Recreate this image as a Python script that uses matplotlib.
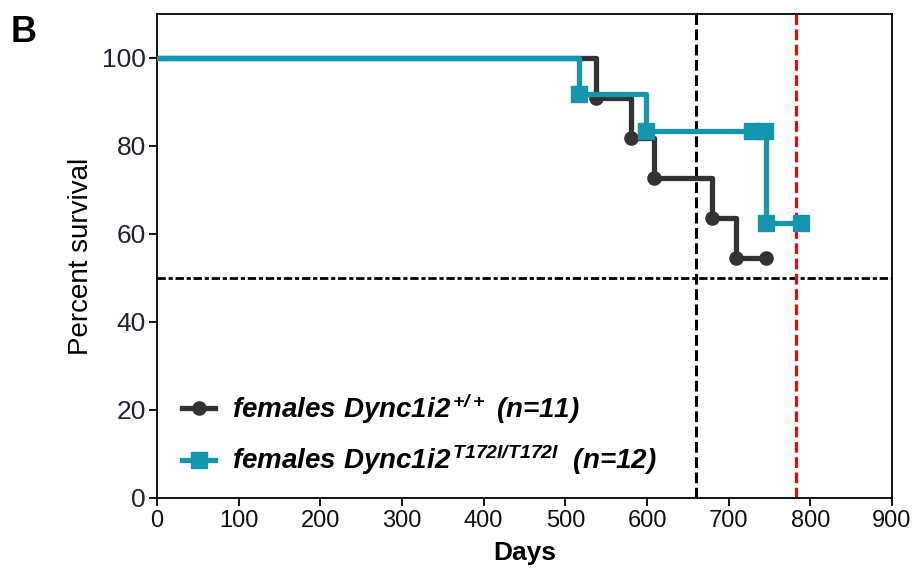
import matplotlib
matplotlib.use("Agg")
import matplotlib.pyplot as plt

# ---- data ----
wt_times = [0, 538, 581, 609, 680, 709, 746]
wt_surv = [100, 90.9, 81.8, 72.7, 63.6, 54.5, 54.5]
mut_times = [0, 517, 599, 746, 788]
mut_surv = [100, 91.7, 83.3, 62.5, 62.5]
mut_cens_times = [728, 744]
mut_cens_surv = [83.3, 83.3]
median_wt = 660
median_mut = 783
x_ticks = [0, 100, 200, 300, 400, 500, 600, 700, 800, 900]
y_ticks = [0, 20, 40, 60, 80, 100]
labels = [r"females Dync1i2$^{\,\mathregular{+/+}}$ (n=11)",
          r"females Dync1i2$^{\,\mathregular{T172I/T172I}}$  (n=12)"]

plt.rcParams['font.family'] = ['Liberation Sans', 'DejaVu Sans']
plt.rcParams['mathtext.fontset'] = 'custom'
plt.rcParams['mathtext.rm'] = 'Liberation Sans:bold:italic'
plt.rcParams['mathtext.it'] = 'Liberation Sans:bold:italic'

wt_color = '#333333'
mut_color = '#1496AE'

fig = plt.figure(figsize=(9.16, 5.8), dpi=100)
ax = fig.add_axes([0.1714, 0.1414, 0.8024, 0.8345])

# reference lines
ax.axhline(50, color='black', lw=2, dashes=(3, 1, 1.5, 1), zorder=1)
ax.axvline(median_wt, color='black', lw=2.2, dashes=(3.5, 1.5), zorder=1)
ax.axvline(median_mut, color='#FF0000', lw=2.2, dashes=(3.5, 1.5), zorder=1)

# curves
ax.step(wt_times, wt_surv, where='post', color=wt_color, lw=3.8, zorder=3)
ax.plot(wt_times[1:], wt_surv[1:], 'o', color=wt_color, ms=9.5, zorder=3)
ax.step(mut_times, mut_surv, where='post', color=mut_color, lw=3.8, zorder=4)
ax.plot(mut_times[1:], mut_surv[1:], 's', color=mut_color, ms=11, zorder=4)
ax.plot(mut_cens_times, mut_cens_surv, 's', color=mut_color, ms=11, zorder=4)

# legend handles
h1, = ax.plot([], [], '-o', color=wt_color, lw=3.8, ms=9.5)
h2, = ax.plot([], [], '-s', color=mut_color, lw=3.8, ms=11)
leg = ax.legend([h1, h2], labels, loc='lower left', bbox_to_anchor=(0.0, -0.009),
                frameon=False, handlelength=1.2, handletextpad=0.6,
                labelspacing=0.6,
                prop={'family': 'Liberation Sans', 'weight': 'bold',
                      'style': 'italic', 'size': 20})

ax.set_xlim(0, 900)
ax.set_ylim(0, 110)
ax.set_xticks(x_ticks)
ax.set_yticks(y_ticks)
ax.tick_params(axis='both', direction='out', length=6, width=1.3, colors='black')
ax.tick_params(axis='y', labelsize=19, labelcolor='#222233', pad=2)
ax.tick_params(axis='x', labelsize=17, labelcolor='#111111', pad=3)
for sp in ax.spines.values():
    sp.set_linewidth(1.3)

ax.set_ylabel('Percent survival', fontsize=20, labelpad=6)
ax.set_xlabel('Days', fontsize=19, fontweight='bold', labelpad=6)

fig.text(0.012, 0.975, 'B', fontsize=26, fontweight='bold', va='top', ha='left')

fig.savefig('out.png', dpi=100)
